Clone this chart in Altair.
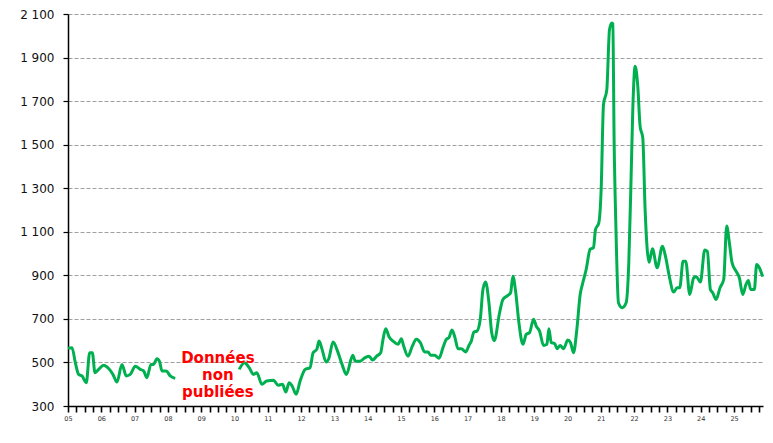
import altair as alt
import pandas as pd

# Segment 1: 2005 - early 2008
years_a = [2005.00, 2005.12, 2005.22, 2005.32, 2005.42, 2005.55, 2005.65, 2005.73, 2005.81, 2005.92,
           2006.07, 2006.22, 2006.35, 2006.47, 2006.62, 2006.75, 2006.87, 2007.02, 2007.17, 2007.27,
           2007.37, 2007.49, 2007.57, 2007.67, 2007.75, 2007.82, 2007.95, 2008.07, 2008.22]
values_a = [565, 568, 499, 445, 438, 407, 545, 545, 453, 468,
            487, 472, 445, 410, 491, 438, 445, 483, 468, 461,
            430, 491, 491, 517, 504, 461, 461, 438, 427]

# Segment 2: 2010 - 2025
years_b = [2010.14, 2010.30, 2010.44, 2010.57, 2010.67, 2010.82, 2010.97, 2011.17, 2011.31, 2011.44,
           2011.54, 2011.64, 2011.73, 2011.85, 2011.97, 2012.12, 2012.27, 2012.36, 2012.47, 2012.54,
           2012.63, 2012.75, 2012.83, 2012.96, 2013.11, 2013.23, 2013.36, 2013.55, 2013.63, 2013.77,
           2013.92, 2014.04, 2014.15, 2014.27, 2014.39, 2014.46, 2014.54, 2014.64, 2014.76, 2014.91,
           2015.01, 2015.08, 2015.21, 2015.34, 2015.46, 2015.58, 2015.71, 2015.81, 2015.89, 2016.01,
           2016.14, 2016.26, 2016.36, 2016.44, 2016.53, 2016.62, 2016.71, 2016.81, 2016.94, 2017.04,
           2017.11, 2017.19, 2017.28, 2017.38, 2017.46, 2017.54, 2017.64, 2017.72, 2017.80, 2017.96,
           2018.06, 2018.21, 2018.29, 2018.36, 2018.44, 2018.54, 2018.66, 2018.76, 2018.86, 2018.98,
           2019.06, 2019.16, 2019.28, 2019.38, 2019.44, 2019.51, 2019.61, 2019.69, 2019.78, 2019.88,
           2020.01, 2020.09, 2020.18, 2020.28, 2020.38, 2020.46, 2020.56, 2020.68, 2020.78, 2020.84,
           2020.94, 2021.01, 2021.08, 2021.18, 2021.26, 2021.33, 2021.36, 2021.40, 2021.45, 2021.53,
           2021.64, 2021.76, 2021.84, 2021.91, 2021.96, 2022.03, 2022.11, 2022.18, 2022.26, 2022.33,
           2022.45, 2022.55, 2022.69, 2022.85, 2022.95, 2023.05, 2023.19, 2023.29, 2023.37, 2023.47,
           2023.55, 2023.67, 2023.79, 2023.87, 2023.99, 2024.12, 2024.20, 2024.29, 2024.36, 2024.46,
           2024.58, 2024.69, 2024.78, 2024.86, 2024.94, 2025.06, 2025.16, 2025.26, 2025.36, 2025.43,
           2025.50, 2025.61, 2025.68, 2025.76, 2025.86]
values_b = [468, 499, 476, 445, 453, 400, 415, 418, 395, 400,
            364, 407, 392, 354, 415, 468, 476, 545, 560, 598,
            560, 502, 517, 594, 545, 491, 445, 533, 506, 506,
            522, 529, 511, 529, 545, 606, 655, 618, 598, 583,
            609, 575, 529, 575, 606, 591, 548, 548, 533, 533,
            519, 568, 606, 614, 649, 614, 563, 563, 548, 578,
            598, 640, 644, 698, 835, 869, 774, 640, 600, 728,
            789, 808, 820, 896, 828, 683, 583, 629, 637, 698,
            667, 644, 578, 583, 655, 591, 587, 563, 578, 563,
            603, 591, 545, 652, 812, 866, 927, 1020, 1027, 1110,
            1141, 1294, 1684, 1753, 2028, 2059, 2055, 1510, 1141, 774,
            751, 774, 958, 1355, 1661, 1860, 1768, 1584, 1531, 1202,
            960, 1022, 935, 1034, 981, 900, 823, 843, 843, 965,
            965, 812, 889, 894, 869, 1016, 1009, 835, 820, 789,
            843, 881, 1126, 1050, 958, 919, 889, 812, 858, 876,
            835, 835, 950, 935, 894]

y_ticks = [300, 500, 700, 900, 1100, 1300, 1500, 1700, 1900, 2100]
quarter_ticks = [2005 + q / 4 for q in range(84)]
note = ["Données\nnon\npubliées"]

df = pd.concat([
    pd.DataFrame({"year": years_a, "value": values_a, "seg": "a"}),
    pd.DataFrame({"year": years_b, "value": values_b, "seg": "b"}),
])

xscale = alt.Scale(domain=[2005, 2025.87], nice=False, zero=False)
yscale = alt.Scale(domain=[300, 2100], nice=False, zero=False)

xaxis = alt.Axis(values=quarter_ticks, ticks=True, tickSize=6, tickWidth=1.6,
                 tickColor="#000000", tickOpacity=1, grid=False,
                 labelExpr="datum.value % 1 == 0 ? slice(format(datum.value, 'd'), 2) : ''",
                 labelFontSize=6.5, labelFont="DejaVu Sans", labelColor="#333333",
                 labelPadding=3, domainColor="black", domainWidth=1.5,
                 labelOverlap=False, labelBound=False, labelFlush=False)
yaxis = alt.Axis(values=y_ticks, tickSize=5, tickColor="black", tickWidth=1.2,
                 domainColor="black", domainWidth=1.5,
                 labelExpr="replace(format(datum.value, ',d'), ',', ' ')",
                 labelFontSize=12, labelFont="DejaVu Sans", labelColor="#111111",
                 labelPadding=9, labelOverlap=False, grid=True, gridColor="#a0a0a0",
                 gridDash=[4, 2], gridWidth=1)

line = alt.Chart(df).mark_line(color="#00B050", strokeWidth=3, interpolate="monotone").encode(
    x=alt.X("year:Q", scale=xscale, title=None, axis=xaxis),
    y=alt.Y("value:Q", scale=yscale, title=None, axis=yaxis),
    detail="seg:N",
)

text = alt.Chart(pd.DataFrame({"t": note})).mark_text(
    lineBreak="\n", font="DejaVu Sans", fontWeight="bold", fontSize=15,
    color="#FF0000", align="center", baseline="middle", lineHeight=17
).encode(
    x=alt.datum(2009.5, title=None, axis=xaxis),
    y=alt.datum(520, title=None, axis=yaxis),
    text="t:N",
)

chart = alt.layer(line, text).properties(
    width=695, height=392,
    autosize=alt.AutoSizeParams(type="none"),
    padding={"left": 60, "top": 6, "right": 2, "bottom": 28},
).configure_view(stroke=None).configure_axis(labelOverlap=False, ticks=True)

chart.save("out.html", embed_options={"renderer": "svg", "actions": False})
